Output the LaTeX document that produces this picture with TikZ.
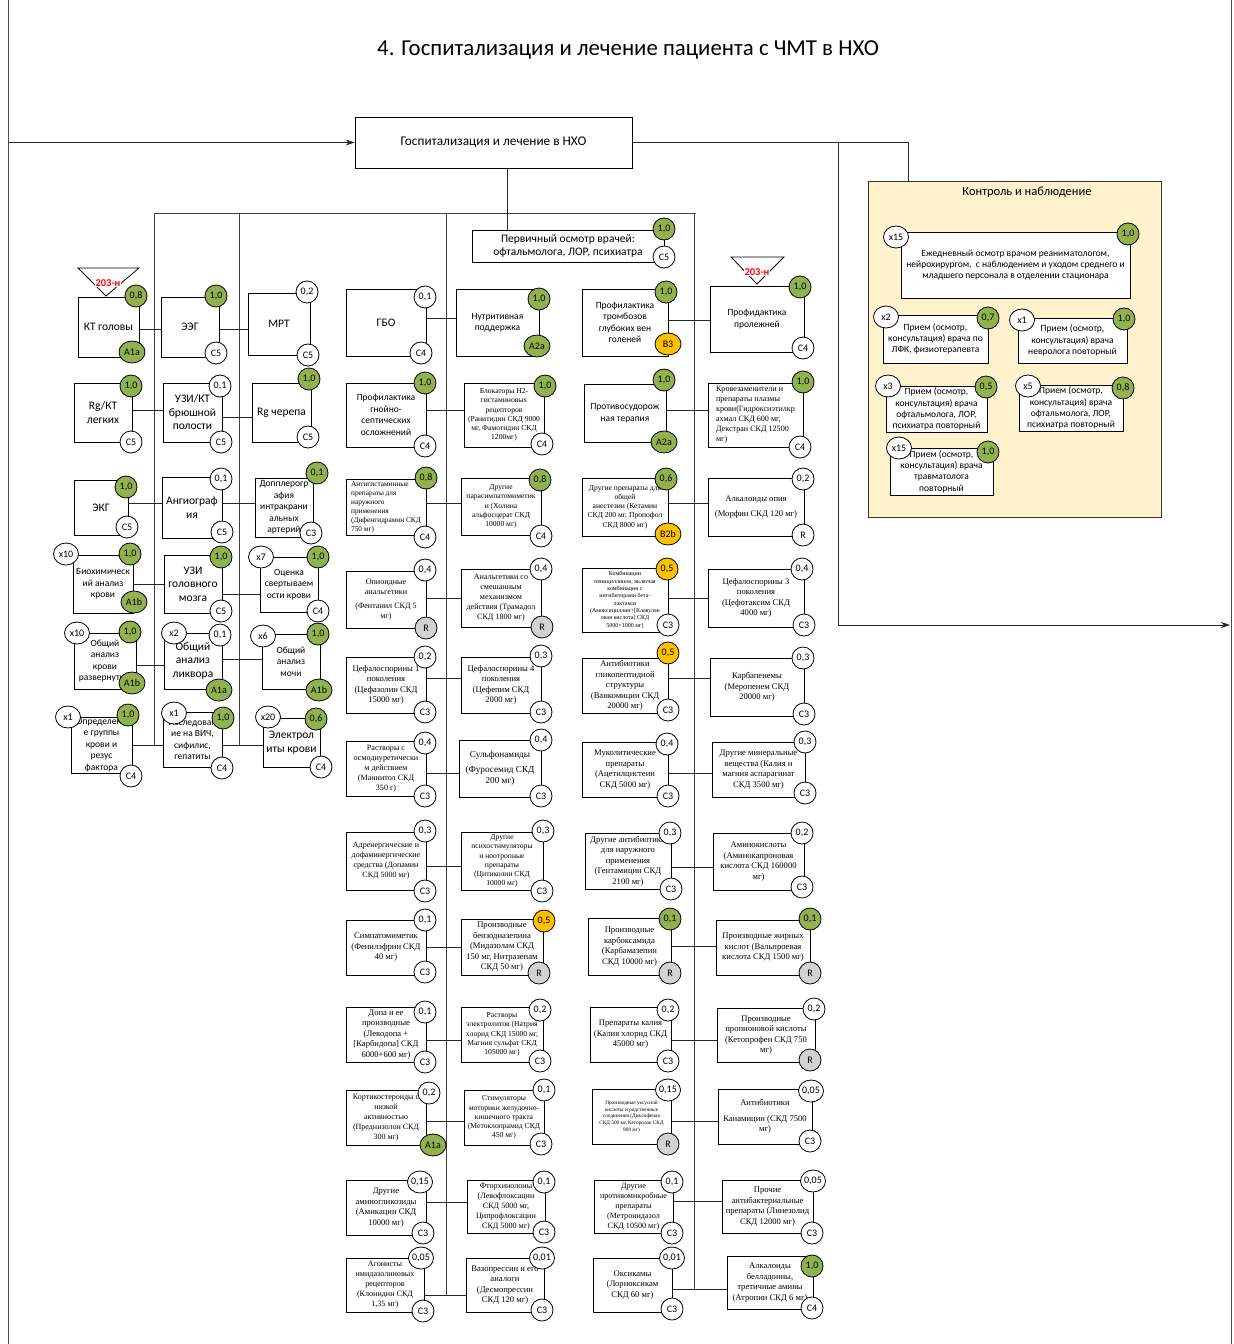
\documentclass[tikz,border=0pt]{standalone}
\usepackage{fontspec}
\setmainfont{Carlito}
\newfontfamily\tnr{Liberation Serif}
\usetikzlibrary{shapes.geometric,arrows.meta}

\definecolor{bgreen}{RGB}{146,178,80}
\definecolor{borange}{RGB}{255,192,0}
\definecolor{bgrey}{RGB}{210,210,210}
\definecolor{ctrlfill}{RGB}{255,242,204}

% box by its corners (pixel-like units, y grows downwards)
\newcommand{\mkbox}[7]{\node[box,#6,minimum width={#4-#2},minimum height={#5-#3}] (#1) at ({(#2+#4)/2},{-(#3+#5)/2}) {#7};}
% round marker
\newcommand{\mkbadge}[5]{\node[#4] (#1) at (#2,-#3) {#5};}
% horizontal link between two boxes of one row
\newcommand{\rowlink}[3]{\draw[link] (#1.east |- 0,-#3) -- (#2.west |- 0,-#3);}

\tikzset{
  box/.style={draw=black, line width=0.8pt, fill=white, inner sep=1pt, align=center, text=black},
  lbl/.style={font=\fontsize{11.5}{13.5}\selectfont},
  lblsm/.style={font=\fontsize{9.5}{11.5}\selectfont},
  mainf/.style={font=\fontsize{13.3}{16}\selectfont},
  ctl/.style={font=\fontsize{9.5}{11.3}\selectfont},
  drug/.style={font=\tnr\fontsize{8.6}{10.5}\selectfont},
  drugb/.style={font=\tnr\fontsize{8}{10}\selectfont},
  drugl/.style={font=\tnr\fontsize{9.2}{11.5}\selectfont},
  drugm/.style={font=\tnr\fontsize{8.1}{10}\selectfont},
  drugs/.style={font=\tnr\fontsize{7.6}{9.2}\selectfont},
  drugss/.style={font=\tnr\fontsize{7.3}{9}\selectfont},
  drugxs/.style={font=\tnr\fontsize{6}{7.3}\selectfont},
  drugxxs/.style={font=\tnr\fontsize{5.3}{6.7}\selectfont},
  bdg/.style={ellipse, draw=black, line width=0.8pt, inner sep=0pt,
    minimum width=22pt, minimum height=22pt, font=\fontsize{10}{10}\selectfont},
  vw/.style={bdg, fill=white},
  vg/.style={bdg, fill=bgreen},
  vo/.style={bdg, fill=borange},
  cw/.style={bdg, fill=white},
  cg/.style={bdg, fill=bgreen, minimum width=26pt},
  co/.style={bdg, fill=borange, minimum width=26pt},
  cR/.style={bdg, fill=bgrey},
  mult/.style={bdg, fill=white, minimum width=25pt},
  link/.style={draw=black!85, line width=0.9pt},
  bus/.style={draw=black!75, line width=0.9pt},
  arr/.style={link, -{Stealth[length=9pt,width=6pt]}},
  tri/.style={draw=black, line width=0.8pt, fill=white},
  tag203/.style={text=red, font=\bfseries\fontsize{10.5}{10.5}\selectfont, fill=white, inner sep=0.5pt},
}

\begin{document}
\begin{tikzpicture}[x=1pt,y=1pt]
\useasboundingbox (0,0) rectangle (1234,-1344);
\fill[white] (0,0) rectangle (1234,-1344);

% page frame
\draw[black!70, line width=0.8pt] (8,0) -- (8,-1344);
\draw[black!70, line width=0.8pt] (1231,0) -- (1231,-1344);

% title
\node[font=\fontsize{22.8}{26}\selectfont] (title) at (628,-50) {4. Госпитализация и лечение пациента с ЧМТ в НХО};

% main stage
\mkbox{main}{355}{117}{632}{168}{mainf}{Госпитализация и лечение в НХО}
\coordinate (entry) at (8,-142.5);
\draw[arr] (entry) -- (main.west);

% control block
\node[draw=black!80, line width=0.8pt, fill=ctrlfill, minimum width=293, minimum height=336, inner sep=0pt] (ctrl) at (1014.5,-349) {};
\node[font=\fontsize{12.5}{15}\selectfont] (ctrltitle) at (1027,-192) {Контроль и наблюдение};
\draw[link] (main.east) -| (ctrl.north -| 908,0);
\coordinate (exitR) at (1230,-625);
\draw[arr] (main.east -| 838,0) |- (exitR);

% distribution bus
\coordinate (busW) at (154,-213);
\coordinate (busE) at (696,-213);
\coordinate (b1b) at (154,-745);
\coordinate (b2t) at (239,-213);
\coordinate (b2b) at (239,-745);
\coordinate (b3t) at (446,-213);
\coordinate (b3b) at (446,-1295);
\coordinate (b4t) at (694,-213);
\coordinate (b4b) at (694,-1289);
\draw[bus] (busW) -- (busE);
\draw[bus] (busW) -- (b1b);
\draw[bus] (b2t) -- (b2b);
\draw[bus] (b3t) -- (b3b);
\draw[bus] (b4t) -- (b4b);

% ---------- boxes: diagnostics ----------
\mkbox{kt}{78}{297}{139}{357}{lbl}{КТ головы}
\mkbox{eeg}{161}{297}{219}{357}{lbl}{ЭЭГ}
\mkbox{mrt}{248}{293}{310}{355}{lbl}{МРТ}
\mkbox{rgl}{74}{383}{132}{442}{lbl}{Rg/КТ\\легких}
\mkbox{uzik}{163}{383}{222}{442}{lbl}{УЗИ/КТ\\брюшной\\полости}
\mkbox{rgc}{252}{383}{311}{442}{lbl}{Rg черепа}
\mkbox{ekg}{74}{480}{128}{535}{lbl}{ЭКГ}
\mkbox{angio}{162}{477}{222}{538}{lbl}{Ангиограф\\ия}
\mkbox{dopp}{255}{478}{313}{537}{lblsm}{Допплерогр\\афия\\интракрани\\альных\\артерий}
\mkbox{bio}{73}{555}{133}{613}{lblsm}{Биохимическ\\ий анализ\\крови}
\mkbox{uzig}{164}{555}{222}{613}{lbl}{УЗИ\\головного\\мозга}
\mkbox{coag}{260}{557}{318}{612}{lblsm}{Оценка\\свертываем\\ости крови}
\mkbox{oak}{74}{633}{136}{689}{lblsm}{Общий\\анализ\\крови\\развернутый}
\mkbox{likv}{164}{633}{222}{689}{lbl}{Общий\\анализ\\ликвора}
\mkbox{oam}{262}{634}{320}{689}{lblsm}{Общий\\анализ\\мочи}
\mkbox{grp}{71}{717}{132}{773}{lblsm}{Определени\\е группы\\крови и\\резус\\фактора}
\mkbox{hiv}{163}{712}{222}{767}{lblsm}{Исследован\\ие на ВИЧ,\\сифилис,\\гепатиты}
\mkbox{elec}{263}{718}{320}{767}{lbl}{Электрол\\иты крови}

% ---------- boxes: treatment ----------
\mkbox{prim}{472}{230}{664}{262}{lbl}{Первичный осмотр врачей:\\офтальмолога, ЛОР, психиатра}
\mkbox{gbo}{346}{289}{426}{356}{lbl}{ГБО}
\mkbox{nutr}{456}{289}{539}{356}{lblsm}{Нутритивная\\поддержка}
\mkbox{tromb}{582}{289}{668}{356}{lblsm}{Профилактика\\тромбозов\\глубоких вен\\голеней}
\mkbox{prol}{710}{286}{804}{352}{lblsm}{Профидактика\\пролежней}
\mkbox{gnoy}{346}{383}{426}{447}{lblsm}{Профилактика\\гнойно-\\септических\\осложнений}
\mkbox{h2}{464}{383}{544}{447}{drugs}{Блокаторы H2-\\гистаминовых\\рецепторов\\(Ранитидин СКД 9000\\мг, Фамотидин СКД\\1200мг)}
\mkbox{sudor}{584}{384}{666}{442}{lblsm}{Противосудорож\\ная терапия}
\mkbox{krov}{708}{383}{803}{447}{drugm,align=left}{Кровезаменители и\\препараты плазмы\\крови(Гидроксиэтилкр\\ахмал СКД 600 мг,\\Декстран СКД 12500\\мг)}
\mkbox{antih}{346}{479}{426}{535}{drugss,align=left}{Антигистаминные\\препараты для\\наружного\\применения\\(Дифенгидрамин СКД\\750 мг)}
\mkbox{paras}{461}{478}{541}{535}{drugs}{Другие\\парасимпатомиметик\\и (Холина\\альфосцерат СКД\\10000 мг)}
\mkbox{anest}{582}{478}{668}{536}{drugs}{Другие препараты для\\общей\\анестезии (Кетамин\\СКД 200 мг, Пропофол\\СКД 8000 мг)}
\mkbox{opium}{708}{478}{804}{536}{drug}{Алкалоиды опия\\[4pt](Морфин СКД 120 мг)}
\mkbox{opioid}{346}{571}{426}{628}{drugm}{Опиоидные\\анальгетики\\[4pt](Фентанил СКД 5\\мг)}
\mkbox{tramad}{461}{569}{541}{627}{drugm}{Анальгетики со\\смешанным\\механизмом\\действия (Трамадол\\СКД 1800 мг)}
\mkbox{penic}{582}{568}{668}{632}{drugxs}{Комбинации\\пенициллинов, включая\\комбинации с\\ингибиторами бета-\\лактамаз\\(Амоксициллин+{[}Клавулан\\овая кислота{]} СКД\\5000+1000 мг)}
\mkbox{cef3}{708}{569}{804}{627}{drug}{Цефалоспорины 3\\поколения\\(Цефотаксим СКД\\4000 мг)}
\mkbox{cef1}{346}{657}{426}{713}{drug}{Цефалоспорины 1\\поколения\\(Цефазолин СКД\\15000 мг)}
\mkbox{cef4}{461}{657}{541}{713}{drug}{Цефалоспорины 4\\поколения\\(Цефепим СКД\\2000 мг)}
\mkbox{vanc}{582}{658}{668}{713}{drug}{Антибиотики\\гликопептидной\\структуры\\(Ванкомицин СКД\\20000 мг)}
\mkbox{carb}{710}{658}{804}{716}{drug}{Карбапенемы\\(Меропенем СКД\\20000 мг)}
\mkbox{osmo}{346}{741}{426}{796}{drugm}{Растворы с\\осмодиуретически\\м действием\\(Маннитол СКД\\350 г)}
\mkbox{sulf}{459}{740}{541}{797}{drugl}{Сульфонамиды\\[3pt](Фуросемид СКД\\200 мг)}
\mkbox{mucol}{582}{742}{668}{797}{drug}{Муколитические\\препараты\\(Ацетилцистеин\\СКД 5000 мг)}
\mkbox{miner}{712}{742}{805}{797}{drug}{Другие минеральные\\вещества (Калия и\\магния аспарагинат\\СКД 3500 мг)}
\mkbox{adren}{346}{832}{426}{890}{drugb}{Адренергические и\\дофаминергические\\средства (Допамин\\СКД 5000 мг)}
\mkbox{psych}{461}{832}{543}{890}{drugs}{Другие\\психостимуляторы\\и ноотропные\\препараты\\(Цитиколин СКД\\10000 мг)}
\mkbox{gent}{585}{833}{671}{889}{drug}{Другие антибиотики\\для наружного\\применения\\(Гентамицин СКД\\2100 мг)}
\mkbox{amino}{713}{833}{804}{890}{drug}{Аминокислоты\\(Аминокапроновая\\кислота СКД 160000\\мг)}
\mkbox{sympat}{346}{920}{426}{975}{drug}{Симпатомиметик\\(Фенилэфрин СКД\\40 мг)}
\mkbox{benzo}{461}{919}{543}{975}{drug}{Производные\\бензодиазепина\\(Мидазолам СКД\\150 мг, Нитразепам\\СКД 50 мг)}
\mkbox{carbam}{588}{918}{671}{975}{drug}{Производные\\карбоксамида\\(Карбамазепин\\СКД 10000 мг)}
\mkbox{valpr}{716}{920}{810}{975}{drug}{Производные жирных\\кислот (Вальпроевая\\кислота СКД 1500 мг)}
\mkbox{dopa}{346}{1007}{426}{1062}{drug}{Допа и ее\\производные\\(Леводопа +\\{[}Карбидопа{]} СКД\\6000+600 мг)}
\mkbox{electr}{461}{1007}{543}{1062}{drugs}{Растворы\\электролитов (Натрия\\хлорид СКД 15000 мг,\\Магния сульфат СКД\\105000 мг)}
\mkbox{kalium}{590}{1007}{671}{1062}{drug}{Препараты калия\\(Калия хлорид СКД\\45000 мг)}
\mkbox{propion}{717}{1008}{815}{1062}{drug}{Производные\\пропионовой кислоты\\(Кетопрофен СКД 750\\мг)}
\mkbox{cortic}{346}{1090}{426}{1145}{drugb}{Кортикостероиды с\\низкой\\активностью\\(Преднизолон СКД\\300 мг)}
\mkbox{metocl}{464}{1090}{544}{1145}{drugs}{Стимуляторы\\моторики желудочно-\\кишечного тракта\\(Метоклопрамид СКД\\450 мг)}
\mkbox{acetic}{592}{1089}{671}{1144}{drugxxs}{Производные уксусной\\кислоты и родственные\\соединения (Диклофенак\\СКД 500 мг, Кеторолак СКД\\900 мг)}
\mkbox{kanam}{718}{1089}{812}{1144}{drug}{Антибиотики\\[5pt]Канамицин (СКД 7500\\мг)}
\mkbox{amikac}{346}{1180}{426}{1235}{drug}{Другие\\аминогликозиды\\(Амикацин СКД\\10000 мг)}
\mkbox{fluoro}{467}{1180}{545}{1233}{drugm}{Фторхинолоны\\(Левофлоксацин\\СКД 5000 мг,\\Ципрофлоксацин\\СКД 5000 мг)}
\mkbox{metron}{594}{1180}{673}{1233}{drugm}{Другие\\противомикробные\\препараты\\(Метронидазол\\СКД 10500 мг)}
\mkbox{linez}{722}{1180}{813}{1233}{drug}{Прочие\\антибактериальные\\препараты (Линезолид\\СКД 12000 мг)}
\mkbox{clonid}{346}{1258}{424}{1312}{drugm}{Агонисты\\имидазолиновых\\рецепторов\\(Клонидин СКД\\1,35 мг)}
\mkbox{desmo}{466}{1258}{544}{1312}{drug}{Вазопрессин и его\\аналоги\\(Десмопрессин\\СКД 120 мг)}
\mkbox{oxicam}{593}{1258}{672}{1312}{drug}{Оксикамы\\(Лорноксикам\\СКД 60 мг)}
\mkbox{atrop}{727}{1256}{813}{1309}{drug}{Алкалоиды\\белладонны,\\третичные амины\\(Атропин СКД 6 мг)}

% ---------- boxes: monitoring ----------
\mkbox{daily}{901}{232}{1130}{298}{ctl}{Ежедневный осмотр врачом реаниматологом,\\нейрохирургом,\ \ с наблюдением и уходом среднего и\\младшего персонала в отделении стационара}
\mkbox{lfk}{883}{315}{988}{363}{ctl}{Прием (осмотр,\\консультация) врача по\\ЛФК, физиотерапевта}
\mkbox{nevr}{1018}{318}{1127}{363}{ctl}{Прием (осмотр,\\консультация) врача\\невролога повторный}
\mkbox{oftA}{886}{386}{987}{432}{ctl}{Прием (осмотр,\\консультация) врача\\офтальмолога, ЛОР,\\психиатра повторный}
\mkbox{oftB}{1019}{385}{1123}{431}{ctl}{Прием (осмотр,\\консультация) врача\\офтальмолога, ЛОР,\\психиатра повторный}
\mkbox{trav}{890}{448}{993}{495}{ctl}{Прием (осмотр,\\консультация) врача\\травматолога\\повторный}

% stem from the main stage to the first examination
\draw[link] (main.south -| 507,0) -- (prim.north -| 507,0);

% row links
\rowlink{kt}{eeg}{329}
\rowlink{eeg}{mrt}{329}
\rowlink{rgl}{uzik}{410}
\rowlink{uzik}{rgc}{417}
\rowlink{ekg}{angio}{503}
\rowlink{angio}{dopp}{503}
\rowlink{bio}{uzig}{584}
\rowlink{uzig}{coag}{594}
\rowlink{oak}{likv}{665}
\rowlink{likv}{oam}{659}
\rowlink{grp}{hiv}{745}
\rowlink{hiv}{elec}{745}
\rowlink{gbo}{nutr}{318}
\rowlink{tromb}{prol}{320}
\rowlink{gnoy}{h2}{410}
\rowlink{sudor}{krov}{410}
\rowlink{antih}{paras}{503}
\rowlink{anest}{opium}{503}
\rowlink{opioid}{tramad}{598}
\rowlink{penic}{cef3}{598}
\rowlink{cef1}{cef4}{678}
\rowlink{vanc}{carb}{678}
\rowlink{osmo}{sulf}{773}
\rowlink{mucol}{miner}{773}
\rowlink{adren}{psych}{866}
\rowlink{gent}{amino}{867}
\rowlink{sympat}{benzo}{947}
\rowlink{carbam}{valpr}{946}
\rowlink{dopa}{electr}{1040}
\rowlink{kalium}{propion}{1040}
\rowlink{cortic}{metocl}{1121}
\rowlink{acetic}{kanam}{1121}
\rowlink{amikac}{fluoro}{1202}
\rowlink{metron}{linez}{1201}
\rowlink{clonid}{desmo}{1295}
\rowlink{oxicam}{atrop}{1289}

% order markers "203-н"
\draw[tri] (78,-268) -- (139,-268) -- (106,-296) -- cycle;
\node[tag203] (tagA) at (108,-283) {203-н};
\draw[tri] (731,-257) -- (784,-257) -- (757,-284) -- cycle;
\node[tag203] (tagB) at (757,-272) {203-н};

% ---------- markers ----------
\mkbadge{kt-v}{136}{296}{vg}{0,8}
\mkbadge{kt-c}{132}{352}{cg}{A1a}
\mkbadge{eeg-v}{216}{296}{vg}{1,0}
\mkbadge{eeg-c}{216}{353}{cw}{C5}
\mkbadge{mrt-v}{307}{292}{vw}{0,2}
\mkbadge{mrt-c}{308}{355}{cw}{C5}
\mkbadge{rgl-v}{131}{386}{vg}{1,0}
\mkbadge{rgl-c}{131}{442}{cw}{C5}
\mkbadge{uzik-v}{220}{386}{vw}{0,1}
\mkbadge{uzik-c}{221}{442}{cw}{C5}
\mkbadge{rgc-v}{309}{379}{vg}{1,0}
\mkbadge{rgc-c}{308}{437}{cw}{C5}
\mkbadge{ekg-v}{126}{487}{vg}{1,0}
\mkbadge{ekg-c}{127}{527}{cw}{C5}
\mkbadge{angio-v}{221}{479}{vw}{0,1}
\mkbadge{angio-c}{222}{532}{cw}{C5}
\mkbadge{dopp-v}{317}{473}{vg}{0,1}
\mkbadge{dopp-c}{311}{533}{cw}{C3}
\mkbadge{bio-m}{66}{554}{mult}{x10}
\mkbadge{bio-v}{130}{554}{vg}{1,0}
\mkbadge{bio-c}{134}{602}{cg}{A1b}
\mkbadge{uzig-v}{221}{557}{vg}{1,0}
\mkbadge{uzig-c}{221}{611}{cw}{C5}
\mkbadge{coag-m}{261}{557}{mult}{x7}
\mkbadge{coag-v}{318}{557}{vg}{1,0}
\mkbadge{coag-c}{318}{611}{cw}{C4}
\mkbadge{oak-m}{77}{633}{mult}{x10}
\mkbadge{oak-v}{130}{632}{vg}{1,0}
\mkbadge{oak-c}{132}{683}{cg}{A1b}
\mkbadge{likv-m}{174}{633}{mult}{x2}
\mkbadge{likv-v}{220}{635}{vw}{0,1}
\mkbadge{likv-c}{219}{690}{cg}{A1a}
\mkbadge{oam-m}{263}{636}{mult}{x6}
\mkbadge{oam-v}{318}{634}{vg}{1,0}
\mkbadge{oam-c}{319}{690}{cg}{A1b}
\mkbadge{grp-m}{68}{717}{mult}{x1}
\mkbadge{grp-v}{128}{715}{vg}{1,0}
\mkbadge{grp-c}{131}{776}{cw}{C4}
\mkbadge{hiv-m}{174}{713}{mult}{x1}
\mkbadge{hiv-v}{223}{718}{vg}{1,0}
\mkbadge{hiv-c}{222}{768}{cw}{C4}
\mkbadge{elec-m}{268}{717}{mult}{x20}
\mkbadge{elec-v}{316}{719}{vg}{0,6}
\mkbadge{elec-c}{321}{767}{cw}{C4}

\mkbadge{prim-v}{664}{229}{vg}{1,0}
\mkbadge{prim-c}{664}{257}{cw}{C5}
\mkbadge{gbo-v}{425}{297}{vw}{0,1}
\mkbadge{gbo-c}{421}{353}{cw}{C4}
\mkbadge{nutr-v}{539}{299}{vg}{1,0}
\mkbadge{nutr-c}{537}{346}{cg}{A2a}
\mkbadge{tromb-v}{666}{292}{vg}{1,0}
\mkbadge{tromb-c}{668}{344}{co}{B3}
\mkbadge{prol-v}{800}{287}{vg}{1,0}
\mkbadge{prol-c}{803}{348}{cw}{C4}
\mkbadge{gnoy-v}{425}{383}{vg}{1,0}
\mkbadge{gnoy-c}{425}{446}{cw}{C4}
\mkbadge{h2-v}{545}{386}{vg}{1,0}
\mkbadge{h2-c}{542}{444}{cw}{C4}
\mkbadge{sudor-v}{664}{380}{vg}{1,0}
\mkbadge{sudor-c}{664}{442}{cg}{A2a}
\mkbadge{krov-v}{803}{382}{vg}{1,0}
\mkbadge{krov-c}{800}{447}{cw}{C4}
\mkbadge{antih-v}{426}{478}{vg}{0,8}
\mkbadge{antih-c}{425}{537}{cw}{C4}
\mkbadge{paras-v}{540}{480}{vg}{0,8}
\mkbadge{paras-c}{541}{536}{cw}{C4}
\mkbadge{anest-v}{666}{479}{vg}{0,6}
\mkbadge{anest-c}{668}{534}{co}{B2b}
\mkbadge{opium-v}{803}{479}{vw}{0,2}
\mkbadge{opium-c}{803}{535}{cw}{R}
\mkbadge{opioid-v}{425}{570}{vw}{0,4}
\mkbadge{opioid-c}{426}{628}{cR}{R}
\mkbadge{tramad-v}{541}{569}{vw}{0,4}
\mkbadge{tramad-c}{542}{627}{cR}{R}
\mkbadge{penic-v}{667}{569}{vo}{0,5}
\mkbadge{penic-c}{668}{625}{cw}{C3}
\mkbadge{cef3-v}{802}{569}{vw}{0,4}
\mkbadge{cef3-c}{804}{625}{cw}{C3}
\mkbadge{cef1-v}{425}{657}{vw}{0,2}
\mkbadge{cef1-c}{425}{712}{cw}{C3}
\mkbadge{cef4-v}{541}{656}{vw}{0,3}
\mkbadge{cef4-c}{541}{712}{cw}{C3}
\mkbadge{vanc-v}{668}{653}{vo}{0,5}
\mkbadge{vanc-c}{668}{710}{cw}{C3}
\mkbadge{carb-v}{803}{658}{vw}{0,3}
\mkbadge{carb-c}{804}{714}{cw}{C3}
\mkbadge{osmo-v}{425}{743}{vw}{0,4}
\mkbadge{osmo-c}{425}{796}{cw}{C3}
\mkbadge{sulf-v}{541}{740}{vw}{0,4}
\mkbadge{sulf-c}{541}{796}{cw}{C3}
\mkbadge{mucol-v}{667}{744}{vw}{0,4}
\mkbadge{mucol-c}{668}{796}{cw}{C3}
\mkbadge{miner-v}{805}{742}{vw}{0,3}
\mkbadge{miner-c}{805}{793}{cw}{C3}
\mkbadge{adren-v}{425}{831}{vw}{0,3}
\mkbadge{adren-c}{425}{891}{cw}{C3}
\mkbadge{psych-v}{543}{831}{vw}{0,3}
\mkbadge{psych-c}{542}{891}{cw}{C3}
\mkbadge{gent-v}{670}{833}{vw}{0,3}
\mkbadge{gent-c}{671}{889}{cw}{C3}
\mkbadge{amino-v}{802}{833}{vw}{0,2}
\mkbadge{amino-c}{802}{887}{cw}{C3}
\mkbadge{sympat-v}{425}{920}{vw}{0,1}
\mkbadge{sympat-c}{425}{972}{cw}{C3}
\mkbadge{benzo-v}{544}{921}{vo}{0,5}
\mkbadge{benzo-c}{539}{973}{cR}{R}
\mkbadge{carbam-v}{670}{919}{vg}{0,1}
\mkbadge{carbam-c}{670}{973}{cR}{R}
\mkbadge{valpr-v}{810}{919}{vg}{0,1}
\mkbadge{valpr-c}{810}{973}{cR}{R}
\mkbadge{dopa-v}{425}{1012}{vw}{0,1}
\mkbadge{dopa-c}{425}{1062}{cw}{C3}
\mkbadge{electr-v}{540}{1010}{vw}{0,2}
\mkbadge{electr-c}{540}{1061}{cw}{C3}
\mkbadge{kalium-v}{668}{1010}{vw}{0,2}
\mkbadge{kalium-c}{668}{1061}{cw}{C3}
\mkbadge{propion-v}{814}{1009}{vw}{0,2}
\mkbadge{propion-c}{810}{1060}{cR}{R}
\mkbadge{cortic-v}{429}{1093}{vw}{0,2}
\mkbadge{cortic-c}{433}{1145}{cg}{A1a}
\mkbadge{metocl-v}{544}{1090}{vw}{0,1}
\mkbadge{metocl-c}{541}{1144}{cw}{C3}
\mkbadge{acetic-v}{668}{1090}{vw}{0,15}
\mkbadge{acetic-c}{668}{1144}{cR}{R}
\mkbadge{kanam-v}{811}{1091}{vw}{0,05}
\mkbadge{kanam-c}{810}{1141}{cw}{C3}
\mkbadge{amikac-v}{420}{1182}{vw}{0,15}
\mkbadge{amikac-c}{423}{1233}{cw}{C3}
\mkbadge{fluoro-v}{544}{1182}{vw}{0,1}
\mkbadge{fluoro-c}{544}{1232}{cw}{C3}
\mkbadge{metron-v}{672}{1182}{vw}{0,1}
\mkbadge{metron-c}{672}{1233}{cw}{C3}
\mkbadge{linez-v}{813}{1181}{vw}{0,05}
\mkbadge{linez-c}{812}{1233}{cw}{C3}
\mkbadge{clonid-v}{421}{1258}{vw}{0,05}
\mkbadge{clonid-c}{423}{1311}{cw}{C3}
\mkbadge{desmo-v}{542}{1258}{vw}{0,01}
\mkbadge{desmo-c}{542}{1310}{cw}{C3}
\mkbadge{oxicam-v}{672}{1258}{vw}{0,01}
\mkbadge{oxicam-c}{672}{1309}{cw}{C3}
\mkbadge{atrop-v}{812}{1266}{vg}{1,0}
\mkbadge{atrop-c}{812}{1308}{cw}{C4}

\mkbadge{daily-m}{896}{237}{mult}{x15}
\mkbadge{daily-v}{1128}{234}{vg}{1,0}
\mkbadge{lfk-m}{886}{317}{mult}{x2}
\mkbadge{lfk-v}{988}{318}{vg}{0,7}
\mkbadge{nevr-m}{1022}{320}{mult}{x1}
\mkbadge{nevr-v}{1124}{319}{vg}{1,0}
\mkbadge{oftA-m}{888}{386}{mult}{x3}
\mkbadge{oftA-v}{986}{387}{vg}{0,5}
\mkbadge{oftB-m}{1028}{386}{mult}{x5}
\mkbadge{oftB-v}{1123}{388}{vg}{0,8}
\mkbadge{trav-m}{899}{448}{mult}{x15}
\mkbadge{trav-v}{988}{452}{vg}{1,0}
\end{tikzpicture}
\end{document}
